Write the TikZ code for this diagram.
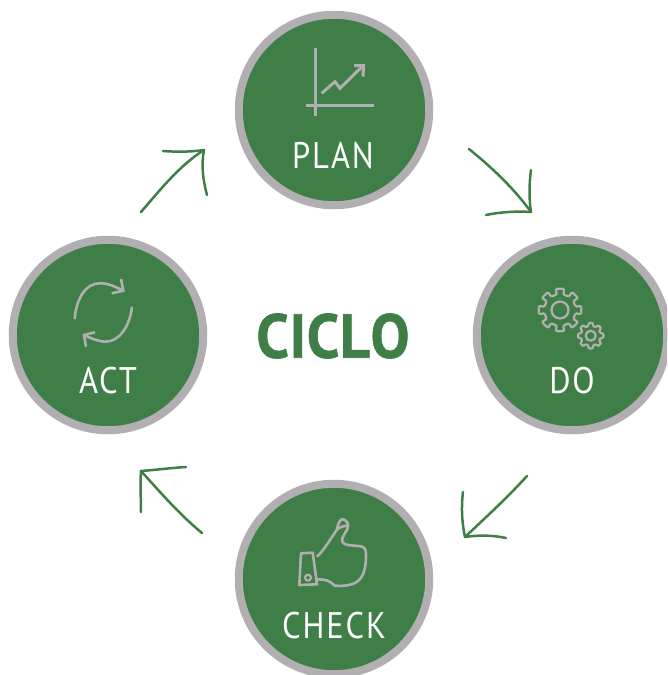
\documentclass[tikz,border=0pt]{standalone}
\usepackage{fontspec}
\setmainfont{PT Sans}
\newfontfamily\phasefont[FakeStretch=0.88,LetterSpace=5]{PT Sans}
\newfontfamily\titlefont[FakeStretch=0.94,LetterSpace=1,BoldFont={PT Sans Bold},BoldFeatures={FakeBold=1},Kerning=Off]{PT Sans}
\definecolor{leaf}{HTML}{3F7F47}
\definecolor{ring}{HTML}{B1AFB1}
\tikzset{
  phase/.style={circle,draw=ring,fill=leaf,line width=8pt,minimum size=190.5pt,inner sep=0pt},
  phasetext/.style={text=white,font=\phasefont\fontsize{37}{40}\selectfont,inner sep=0pt},
  titletext/.style={text=leaf,font=\titlefont\fontsize{62}{66}\selectfont\bfseries,inner sep=0pt},
  flow/.style={draw=leaf,line width=2.5pt,line cap=round},
  icon/.style={draw=ring,line width=3pt,line join=miter},
  iconthin/.style={draw=ring,line width=2.2pt,line join=round},
  iconhand/.style={draw=ring,line width=2.6pt,line join=round},
  pics/gear/.style n args={3}{code={
    \draw[iconthin,rounded corners=1.2pt] (-11.25:#2)
      \foreach \a in {0,45,...,315} {
        -- (\a-11.25:#1) -- (\a+11.25:#1) -- (\a+11.25:#2) -- (\a+33.75:#2)
      } -- cycle;
    \draw[iconthin] (0,0) circle (#3);
  }}
}
\begin{document}
\begin{tikzpicture}[x=1pt,y=-1pt]
  \useasboundingbox (0,0) rectangle (667,675);
  \clip (0,0) rectangle (667,675);
  \node[phase] (plan) at (334,110) {};
  \node[phase] (do) at (572,335) {};
  \node[phase] (check) at (334,579) {};
  \node[phase] (act) at (108,335) {};
  \node[titletext] (ciclo) at (333,336) {CICLO};
  \node[phasetext] (plantext) at (333,156) {PLAN};
  \node[phasetext] (dotext) at (572,381) {DO};
  \node[phasetext] (checktext) at (334,626) {CHECK};
  \node[phasetext] (acttext) at (108,381) {ACT};
  % arrows
  \coordinate (planout) at (469,149);
  \coordinate (doin) at (531,212);
  \coordinate (doout) at (527,476);
  \coordinate (checkin) at (465,537);
  \coordinate (checkout) at (202,533);
  \coordinate (actin) at (141,471);
  \coordinate (actout) at (141,212);
  \coordinate (planin) at (204,150);
  \draw[flow] (planout) .. controls (495,170) and (515,190) .. (doin);
  \draw[flow] (531,170) .. controls (529,185) and (529,200) .. (doin);
  \draw[flow] (486,215) .. controls (500,212) and (517,211) .. (doin);
  \draw[flow] (doout) .. controls (505,500) and (485,518) .. (checkin);
  \draw[flow] (463,492) .. controls (461,508) and (462,523) .. (checkin);
  \draw[flow] (506,538) .. controls (492,535) and (478,535) .. (checkin);
  \draw[flow] (checkout) .. controls (180,515) and (160,492) .. (actin);
  \draw[flow] (186,467) .. controls (170,468) and (155,470) .. (actin);
  \draw[flow] (141,512) .. controls (141,498) and (140,485) .. (actin);
  \draw[flow] (actout) .. controls (160,190) and (180,165) .. (planin);
  \draw[flow] (163,151) .. controls (177,152) and (190,152) .. (planin);
  \draw[flow] (207,195) .. controls (203,180) and (201,165) .. (planin);
  % plan icon
  \draw[icon] (315.3,48) -- (315.3,116);
  \draw[icon] (306,105) -- (374,105);
  \draw[icon] (321.7,93.3) -- (335,81.7) -- (340,88.3) -- (362.7,66);
  \draw[icon] (354,65.7) -- (363.5,65.7) -- (363,76.7);
  % do icon
  \pic at (560,310) {gear={21.7}{16}{8.5}};
  \pic at (590.7,335.7) {gear={13}{10}{5}};
  % check icon
  \draw[iconhand] (301,553.3) -- (312.7,552.7) -- (317,584.3) -- (299.3,585) -- cycle;
  \draw[iconthin] (308,577.7) circle (3);
  \draw[iconhand] (316.7,556.7) .. controls (323,552) and (331,538) .. (336.7,530)
    .. controls (338,526) and (338,522) .. (341.7,519.3)
    .. controls (345,519) and (348,522) .. (348.3,525.7)
    .. controls (348,531) and (340,538) .. (342.3,541.7)
    .. controls (344,546) and (352,545) .. (358,546)
    .. controls (364,546) and (366,549) .. (366,553.3)
    .. controls (366,560) and (366,567) .. (363.3,573.3)
    .. controls (361,580) and (356,583) .. (351.7,584.3)
    .. controls (346,586) and (340,586) .. (335,585.7)
    .. controls (331,583) and (330,581) .. (326.7,580.3)
    .. controls (323,579.5) and (320,579.5) .. (317.3,579.3);
  \draw[iconhand] (336.7,530) .. controls (339,527) and (344,525.7) .. (348.3,525.7);
  % act icon
  \draw[icon,line width=2.6pt] (74.7,319) .. controls (76,300) and (85,283) .. (100,283.3)
    .. controls (108,283) and (116,287) .. (123.3,290.7);
  \draw[icon,line width=2.6pt] (121,279) -- (123.3,290.7) -- (111.7,293.3);
  \draw[icon,line width=2.6pt] (132,306.7) .. controls (130,325) and (120,342) .. (105,341.7)
    .. controls (97,341) and (90,338) .. (84,335);
  \draw[icon,line width=2.6pt] (95,332.3) -- (84,335) -- (86,346.7);
\end{tikzpicture}
\end{document}
